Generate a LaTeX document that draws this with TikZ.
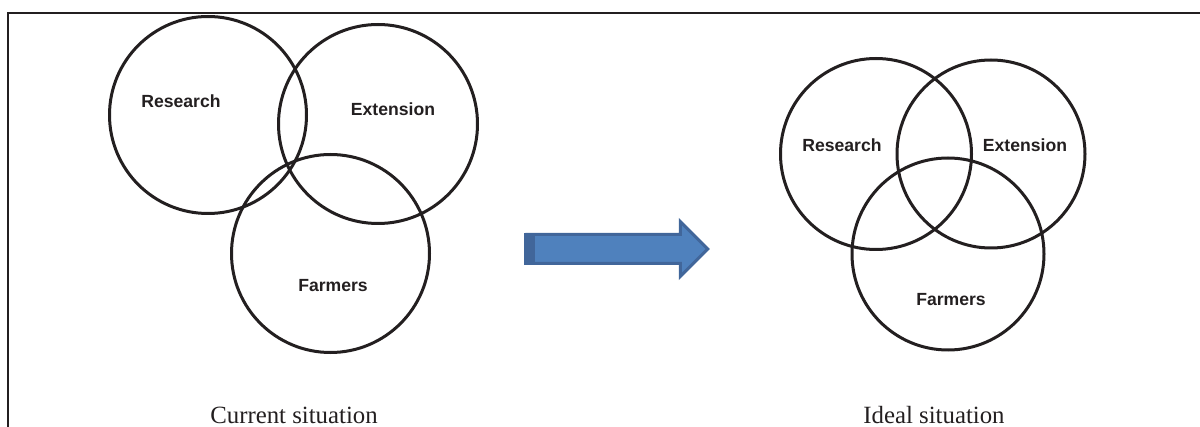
\documentclass[tikz,border=0pt]{standalone}
\usepackage{fontspec}
\setmainfont{Liberation Serif}
\setsansfont{Liberation Sans}
\usepackage{tikz}
\usetikzlibrary{shapes.arrows,positioning}
\usepackage{xcolor}
\definecolor{ink}{HTML}{231F20}
\definecolor{arrowfill}{HTML}{4F81BD}
\definecolor{arrowedge}{HTML}{41669A}
\tikzset{venndisk/.style={draw=ink,circle,line width=1.5pt,inner sep=0pt}, vennlabel/.style={font=\fontsize{8.8}{10}\sffamily\bfseries,text=ink,inner sep=0pt}, caption/.style={font=\fontsize{12.4}{14}\selectfont,text=ink,anchor=base,inner sep=0pt}, shiftarrow/.style={single arrow,draw=arrowedge,fill=arrowfill,line width=1.5pt,minimum height=90.5pt,inner xsep=0pt,inner ysep=6.5pt,single arrow head extend=6.5pt}, framing/.style={draw=ink,line width=1pt}}

\begin{document}
\begin{tikzpicture}[x=0.5pt,y=-0.5pt]
\useasboundingbox (0,0) rectangle (1200,427);
% open frame
\draw[framing] (8,440) -- (8,13) -- (1210,13);
% current situation
\node[venndisk,minimum size=98.5pt] (researchA) at (208,115) {};
\node[venndisk,minimum size=99.5pt] (extensionA) at (378,124) {};
\node[venndisk,minimum size=99pt] (farmersA) at (330.5,253.5) {};
\node[vennlabel] (researchAtxt) at (181,101) {Research};
\node[vennlabel] (extensionAtxt) at (393,109) {Extension};
\node[vennlabel] (farmersAtxt) at (333,286) {Farmers};
\node[caption] (currentcap) at (294,423) {Current situation};
% arrow
\node[shiftarrow] (shift) at (610,249) {};
\fill[arrowedge] ([xshift=-0.75pt]shift.before tail) rectangle ([xshift=5pt]shift.after tail);
% ideal situation
\node[venndisk,minimum size=95.5pt] (researchB) at (876,154) {};
\node[venndisk,minimum size=94pt] (extensionB) at (991,154) {};
\node[venndisk,minimum size=96pt] (farmersB) at (948,254) {};
\node[vennlabel] (researchBtxt) at (842,145) {Research};
\node[vennlabel] (extensionBtxt) at (1025,145) {Extension};
\node[vennlabel] (farmersBtxt) at (951,300) {Farmers};
\node[caption] (idealcap) at (934,423) {Ideal situation};
\end{tikzpicture}
\end{document}
